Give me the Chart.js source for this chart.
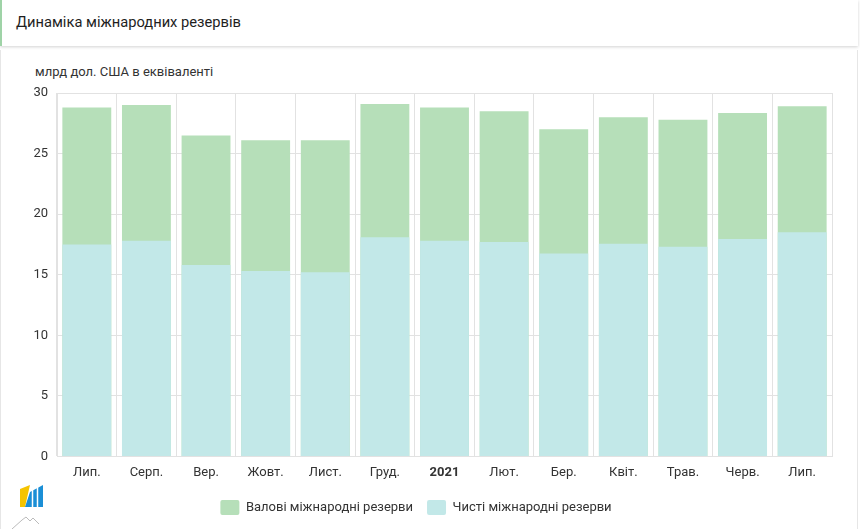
<!DOCTYPE html>
<html>
<head>
<meta charset="utf-8">
<script src="https://cdn.jsdelivr.net/npm/chart.js@4.4.1/dist/chart.umd.min.js"></script>
<style>
  html, body { margin: 0; padding: 0; background: #fff; font-family: Roboto, "Noto Sans", sans-serif; }
  body { width: 860px; height: 529px; position: relative; overflow: hidden; }
  #titlebar { position: absolute; left: 0; top: 0; width: 856px; height: 46px; background: #fff;
    border-left: 2px solid #9fd3a7; box-shadow: 0 1px 3px rgba(0,0,0,0.18); }
  #title { position: absolute; left: 14px; top: 13px; font-size: 14.7px; color: #1e1e1e; font-weight: 400; }
  #card { position: absolute; left: 0; top: 50px; width: 856px; height: 490px; border-left: 1px solid #e6e6e6; border-right: 1px solid #e6e6e6; }
  #ytitle { position: absolute; left: 35px; top: 64px; font-size: 13px; color: #333; }
  #wrap { position: absolute; left: 0; top: 50px; width: 858px; height: 479px; }
  #logo { position: absolute; left: 12px; top: 484px; }
</style>
</head>
<body>
<div id="titlebar"><div id="title">Динаміка міжнародних резервів</div></div>
<div id="card"></div>
<div id="ytitle">млрд дол. США в еквіваленті</div>
<div id="wrap"><canvas id="c"></canvas></div>
<svg id="logo" width="34" height="45" viewBox="0 0 34 45">
  <polygon points="8,5 18,1 13,23 8,23" fill="#f5c400"/>
  <polygon points="13,23 18,8 31,1 31,23" fill="#1b8fd6"/>
  <line x1="20.5" y1="5" x2="20.5" y2="23" stroke="#fff" stroke-width="1.5"/>
  <line x1="25.5" y1="2" x2="25.5" y2="23" stroke="#fff" stroke-width="1.5"/>
  <polyline points="0,45 10,36 14,33 18,37 21,34 27,40" fill="none" stroke="#bbb" stroke-width="1"/>
</svg>
<script>
const categories = ['Лип.', 'Серп.', 'Вер.', 'Жовт.', 'Лист.', 'Груд.', '2021', 'Лют.', 'Бер.', 'Квіт.', 'Трав.', 'Черв.', 'Лип.'];
const grossReserves = [28.8, 29.0, 26.5, 26.1, 26.1, 29.1, 28.8, 28.5, 27.0, 28.0, 27.8, 28.35, 28.9];
const netReserves = [17.5, 17.8, 15.8, 15.3, 15.2, 18.1, 17.8, 17.7, 16.75, 17.55, 17.3, 17.95, 18.5];
const yTicks = { min: 0, max: 30, step: 5 };
const seriesNames = ['Валові міжнародні резерви', 'Чисті міжнародні резерви'];

new Chart(document.getElementById('c'), {
  type: 'bar',
  data: {
    labels: categories,
    datasets: [
      { label: seriesNames[0], data: grossReserves, backgroundColor: '#b6dfb9', order: 1,
        categoryPercentage: 1, barPercentage: 0.82 },
      { label: seriesNames[1], data: netReserves, backgroundColor: '#c2e8e8', order: 0,
        categoryPercentage: 1, barPercentage: 0.82 }
    ]
  },
  options: {
    responsive: true,
    maintainAspectRatio: false,
    animation: false,
    layout: { padding: { left: 0, right: 26, top: 43, bottom: 4 } },
    plugins: {
      tooltip: { enabled: false },
      legend: {
        position: 'bottom',
        labels: {
          boxWidth: 19, boxHeight: 15, useBorderRadius: true, borderRadius: 2,
          color: '#333', font: { family: 'Roboto', size: 13 }, padding: 14,
          sort: (a, b) => a.datasetIndex - b.datasetIndex
        }
      }
    },
    scales: {
      x: {
        stacked: true,
        grid: { color: '#e2e2e2', drawTicks: false, offset: true },
        border: { color: '#e2e2e2' },
        ticks: {
          padding: 9, color: '#333',
          font: (ctx) => ({ family: 'Roboto', size: 13, weight: (ctx.tick && ctx.tick.label === '2021') ? 'bold' : 'normal' })
        },
        afterFit: (scale) => { scale.height = scale.height - 4; }
      },
      y: {
        stacked: false,
        min: yTicks.min, max: yTicks.max,
        grid: { color: '#e2e2e2', drawTicks: false },
        border: { color: '#e2e2e2' },
        ticks: { stepSize: yTicks.step, padding: 9, color: '#333', font: { family: 'Roboto', size: 13 } },
        afterFit: (scale) => { scale.width = 57; }
      }
    }
  }
});
</script>
</body>
</html>
